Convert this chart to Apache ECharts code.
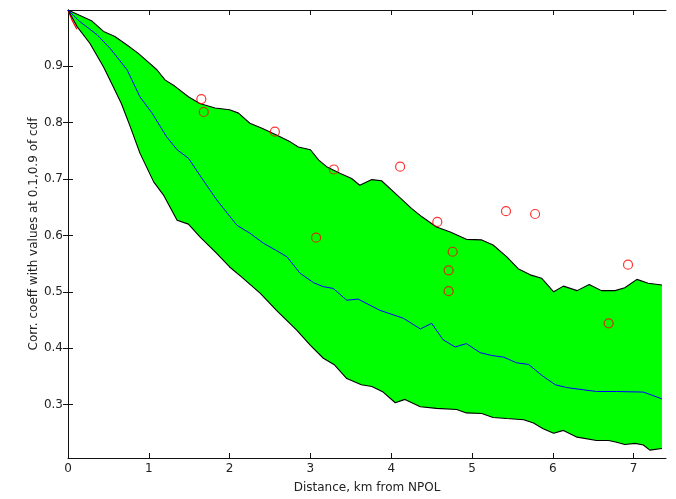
<!DOCTYPE html>
<html>
<head>
<meta charset="utf-8">
<script src="https://cdn.jsdelivr.net/npm/echarts@6/dist/echarts.min.js"></script>
<style>html,body{margin:0;padding:0;background:#fff;}#c{width:676px;height:499px;}</style>
</head>
<body>
<div id="c"></div>
<script>
// Upper bound (0.9 of cdf)
var upperX = [0,0.29,0.44,0.58,0.73,0.87,0.99,1.10,1.20,1.32,1.49,1.63,1.82,2.00,2.11,2.25,2.40,2.58,2.75,2.85,3.00,3.10,3.20,3.37,3.51,3.61,3.76,3.88,4.07,4.25,4.38,4.56,4.73,4.93,5.12,5.26,5.43,5.57,5.72,5.86,6.01,6.13,6.30,6.45,6.60,6.77,6.89,7.04,7.18,7.35];
var upperY = [1.0,0.981,0.962,0.953,0.938,0.923,0.908,0.894,0.876,0.865,0.846,0.834,0.826,0.823,0.817,0.799,0.790,0.778,0.766,0.757,0.752,0.734,0.722,0.710,0.701,0.689,0.699,0.697,0.672,0.648,0.633,0.615,0.606,0.593,0.592,0.583,0.562,0.541,0.530,0.524,0.500,0.510,0.502,0.513,0.502,0.502,0.507,0.522,0.515,0.512];
// Lower bound (0.1 of cdf)
var lowerX = [0,0.11,0.27,0.44,0.56,0.66,0.77,0.89,1.06,1.18,1.35,1.49,1.63,1.84,2.00,2.15,2.38,2.58,2.83,3.00,3.16,3.30,3.45,3.63,3.76,3.90,4.05,4.17,4.36,4.56,4.81,4.93,5.12,5.26,5.43,5.64,5.76,5.88,6.01,6.13,6.30,6.54,6.69,6.79,6.89,7.02,7.12,7.20,7.35];
var lowerY = [1.0,0.971,0.941,0.899,0.864,0.834,0.793,0.746,0.695,0.672,0.627,0.620,0.598,0.568,0.544,0.526,0.497,0.467,0.432,0.405,0.382,0.370,0.346,0.335,0.332,0.322,0.303,0.309,0.296,0.293,0.291,0.285,0.284,0.277,0.275,0.273,0.267,0.257,0.249,0.254,0.242,0.236,0.236,0.233,0.229,0.231,0.228,0.219,0.222];
// Median
var medX = [0,0.15,0.36,0.52,0.73,0.89,1.04,1.22,1.35,1.49,1.63,1.84,2.09,2.25,2.42,2.58,2.71,2.87,3.04,3.16,3.28,3.45,3.59,3.86,4.15,4.36,4.50,4.64,4.79,4.93,5.10,5.24,5.39,5.55,5.70,5.86,6.03,6.17,6.38,6.54,6.79,7.12,7.35];
var medY = [1.0,0.979,0.956,0.932,0.894,0.846,0.817,0.775,0.752,0.737,0.707,0.663,0.618,0.604,0.586,0.573,0.562,0.533,0.516,0.509,0.506,0.485,0.487,0.467,0.453,0.434,0.444,0.415,0.402,0.408,0.392,0.387,0.384,0.374,0.371,0.352,0.335,0.330,0.326,0.323,0.323,0.322,0.310];
// Observed values (red circles)
var obsX = [1.65,1.68,2.56,3.07,3.29,4.11,4.57,4.76,4.71,4.71,5.42,5.78,6.93,6.69];
var obsY = [0.842,0.819,0.784,0.596,0.717,0.722,0.624,0.571,0.538,0.501,0.643,0.638,0.548,0.444];
// Short red trace near origin
var redX = [0,0.05,0.11];
var redY = [1.0,0.982,0.966];
// Tick labels
var xTicks = [0,1,2,3,4,5,6,7];
var yTicks = [0.3,0.4,0.5,0.6,0.7,0.8,0.9];

function zip(a,b){return a.map(function(v,i){return [v,b[i]];});}
var upperPts = zip(upperX, upperY);
var lowerPts = zip(lowerX, lowerY);
var polyPts = upperPts.concat(lowerPts.slice().reverse());

var chart = echarts.init(document.getElementById('c'), null, {renderer:'canvas'});
var fontFam = '"DejaVu Sans", Verdana, sans-serif';
var lineCol = '#111';
function axisBase(){
  return {axisLine:{show:true, lineStyle:{color:lineCol, width:1}}, splitLine:{show:false}};
}
chart.setOption({
  animation:false,
  backgroundColor:'#fff',
  grid:{left:68, right:10, top:10, bottom:41},
  xAxis:[Object.assign(axisBase(), {
    type:'value', min:0, max:7.4, position:'bottom',
    axisTick:{show:true, inside:true, length:5, customValues:xTicks, lineStyle:{color:lineCol}},
    axisLabel:{customValues:xTicks, color:'#222', fontSize:12, fontFamily:fontFam, margin:5},
    name:'Distance, km from NPOL', nameLocation:'middle', nameGap:24, nameMoveOverlap:false,
    nameTextStyle:{color:'#222', fontSize:12, fontFamily:fontFam, verticalAlign:'top'}
  }), Object.assign(axisBase(), {
    type:'value', min:0, max:7.4, position:'top',
    axisTick:{show:true, inside:true, length:5, customValues:xTicks, lineStyle:{color:lineCol}},
    axisLabel:{show:false}
  })],
  yAxis:[Object.assign(axisBase(), {
    type:'value', min:0.205, max:1.0, position:'left',
    axisTick:{show:true, inside:true, length:5, customValues:yTicks, lineStyle:{color:lineCol}},
    axisLabel:{customValues:yTicks, color:'#222', fontSize:12, fontFamily:fontFam, margin:5,
      formatter:function(v){return v.toFixed(1);}},
    name:'Corr. coeff with values at 0.1,0.9 of cdf', nameLocation:'middle', nameGap:28, nameMoveOverlap:false,
    nameTextStyle:{color:'#222', fontSize:12, fontFamily:fontFam}
  }), Object.assign(axisBase(), {
    type:'value', min:0.205, max:1.0, position:'right',
    axisTick:{show:true, inside:true, length:5, customValues:yTicks, lineStyle:{color:lineCol}},
    axisLabel:{show:false}
  })],
  series:[
    {
      type:'custom', xAxisIndex:0, yAxisIndex:0, z:1,
      data:[[0,0]],
      renderItem:function(params, api){
        var pts = polyPts.map(function(p){return api.coord(p);});
        return {type:'polygon', shape:{points:pts}, style:{fill:'#00ff00', stroke:null}};
      },
      silent:true
    },
    {type:'line', data:zip(redX, redY), showSymbol:false, z:2,
      lineStyle:{color:'#ff0000', width:1.2}},
    {type:'line', data:upperPts, showSymbol:false, z:3,
      lineStyle:{color:'#000', width:1.1}},
    {type:'line', data:lowerPts, showSymbol:false, z:3,
      lineStyle:{color:'#000', width:1.1}},
    {type:'line', data:zip(medX, medY), showSymbol:false, z:4,
      lineStyle:{color:'#0000ff', width:1}},
    {type:'scatter', data:zip(obsX, obsY), symbol:'circle', symbolSize:9, z:5,
      itemStyle:{color:'rgba(0,0,0,0)', borderColor:'#ff0000', borderWidth:1.2}}
  ]
});
</script>
</body>
</html>
